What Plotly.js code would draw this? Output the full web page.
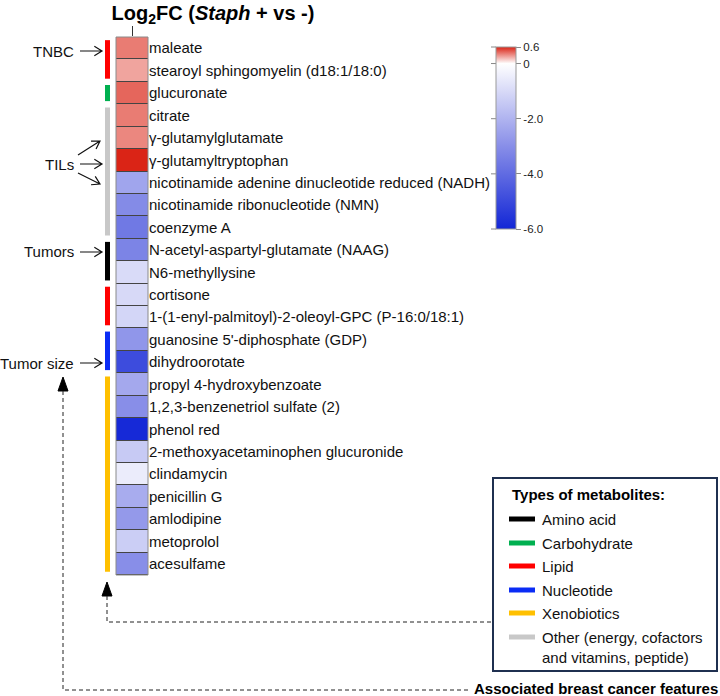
<!DOCTYPE html>
<html><head><meta charset="utf-8">
<script src="https://cdn.plot.ly/plotly-3.0.1.min.js"></script>
<style>html,body{margin:0;padding:0;background:#fff}</style>
</head><body>
<div id="chart" style="width:720px;height:696px"></div>
<script>
const metabolites = [
  'maleate',
  'stearoyl sphingomyelin (d18:1/18:0)',
  'glucuronate',
  'citrate',
  'γ-glutamylglutamate',
  'γ-glutamyltryptophan',
  'nicotinamide adenine dinucleotide reduced (NADH)',
  'nicotinamide ribonucleotide (NMN)',
  'coenzyme A',
  'N-acetyl-aspartyl-glutamate (NAAG)',
  'N6-methyllysine',
  'cortisone',
  '1-(1-enyl-palmitoyl)-2-oleoyl-GPC (P-16:0/18:1)',
  "guanosine 5'-diphosphate (GDP)",
  'dihydroorotate',
  'propyl 4-hydroxybenzoate',
  '1,2,3-benzenetriol sulfate (2)',
  'phenol red',
  '2-methoxyacetaminophen glucuronide',
  'clindamycin',
  'penicillin G',
  'amlodipine',
  'metoprolol',
  'acesulfame'
];
const log2fc = [0.36, 0.25, 0.42, 0.36, 0.33, 0.6,
  -2.4, -3.1, -3.6, -3.3, -0.95, -1.0, -1.1, -2.8, -4.9,
  -2.3, -3.0, -5.9, -1.4, -0.5, -2.2, -2.7, -1.3, -3.0];
const metaboliteType = ['Lipid','Lipid','Carbohydrate','Other','Other','Other','Other','Other','Other',
  'Amino acid','Amino acid','Lipid','Lipid','Nucleotide','Nucleotide',
  'Xenobiotics','Xenobiotics','Xenobiotics','Xenobiotics','Xenobiotics','Xenobiotics','Xenobiotics','Xenobiotics','Xenobiotics'];
const typeNames = ['Amino acid','Carbohydrate','Lipid','Nucleotide','Xenobiotics','Other'];
const typeLabels = ['Amino acid','Carbohydrate','Lipid','Nucleotide','Xenobiotics','Other (energy, cofactors<br>and vitamins, peptide)'];
const typeColors = ['#000000','#00b050','#ff0000','#0a2cf5','#ffc000','#c8c8c8'];
const cbTickVals = [0.6, 0, -2, -4, -6];
const cbTickText = ['0.6', '0', '-2.0', '-4.0', '-6.0'];
const features = [
  {text:'TNBC', y:51, arrows:[[80,51,102,51]]},
  {text:'TILs', y:164, arrows:[[78,155,100,141],[80,164,102,164],[78,173,100,184]]},
  {text:'Tumors', y:252, arrows:[[80,252,102,252]]},
  {text:'Tumor size', y:363, arrows:[[80,363,102,363]]}
];

const W = 720, H = 696;
const px = x => x / W, py = y => 1 - y / H;
const font = 'Liberation Sans, Arial, sans-serif';

const trace = {
  type: 'heatmap',
  x: ['Log2FC'],
  y: metabolites,
  z: log2fc.map(v => [v]),
  zmin: -6, zmax: 0.6,
  colorscale: [[0, 'rgb(18,38,214)'], [6/6.6*0.5, 'rgb(136,142,232)'], [6/6.6, 'rgb(255,255,255)'], [1, 'rgb(218,36,22)']],
  ygap: 1,
  hoverinfo: 'y+z',
  colorbar: {
    x: px(496), xanchor: 'left', y: py(47), yanchor: 'top',
    len: 182, lenmode: 'pixels', thickness: 20, thicknessmode: 'pixels',
    outlinecolor: '#999', outlinewidth: 1,
    tickvals: cbTickVals, ticktext: cbTickText,
    ticks: 'outside', ticklen: 5, tickcolor: '#888',
    tickfont: {family: font, size: 11.5, color: '#222'},
    xpad: 0, ypad: 0
  }
};

const shapes = [];
const annotations = [];

// border around heatmap column
shapes.push({type:'rect', xref:'x domain', yref:'y domain', x0:0, x1:1, y0:0, y1:1, line:{color:'#8a8a8a', width:1}});

// category bars on the left
let start = 0;
for (let i = 1; i <= metaboliteType.length; i++) {
  if (i === metaboliteType.length || metaboliteType[i] !== metaboliteType[start]) {
    const c = typeColors[typeNames.indexOf(metaboliteType[start])];
    shapes.push({type:'line', xref:'paper', yref:'y', x0:px(107.5), x1:px(107.5), y0:start-0.36, y1:i-1+0.36,
      line:{color:c, width:5}});
    start = i;
  }
}

// feature labels and arrows
features.forEach(f => {
  annotations.push({xref:'paper', yref:'paper', x:px(76), y:py(f.y), xanchor:'right', yanchor:'middle',
    text:f.text, showarrow:false, font:{family:font, size:15, color:'#111'}});
  f.arrows.forEach(a => {
    const [x0,y0,x1,y1] = a;
    const ang = Math.atan2(y1-y0, x1-x0), L = 9, s = 0.55;
    const hx1 = x1 - L*Math.cos(ang - s), hy1 = y1 - L*Math.sin(ang - s);
    const hx2 = x1 - L*Math.cos(ang + s), hy2 = y1 - L*Math.sin(ang + s);
    shapes.push({type:'path', xref:'paper', yref:'paper',
      path:`M${px(x0)},${py(y0)} L${px(x1)},${py(y1)} M${px(hx1)},${py(hy1)} L${px(x1)},${py(y1)} L${px(hx2)},${py(hy2)}`,
      line:{color:'#111', width:1.2}});
  });
});

// dashed connectors and triangles
function tri(x, yTop, yBase, hw) {
  return {type:'path', xref:'paper', yref:'paper',
    path:`M${px(x)},${py(yTop)} L${px(x-hw)},${py(yBase)} L${px(x+hw)},${py(yBase)} Z`,
    fillcolor:'#000', line:{color:'#000', width:1}};
}
shapes.push(tri(107, 582, 596, 5));
shapes.push({type:'path', xref:'paper', yref:'paper',
  path:`M${px(107)},${py(596)} L${px(107)},${py(622)} L${px(493)},${py(622)}`,
  line:{color:'#222', width:1, dash:'4px,3px'}});
shapes.push(tri(63, 377, 391, 5));
shapes.push({type:'path', xref:'paper', yref:'paper',
  path:`M${px(63)},${py(391)} L${px(63)},${py(690)} L${px(468)},${py(690)}`,
  line:{color:'#222', width:1, dash:'4px,3px'}});
annotations.push({xref:'paper', yref:'paper', x:px(472), y:py(688), xanchor:'left', yanchor:'middle',
  text:'<b>Associated breast cancer features</b>', showarrow:false, font:{family:font, size:15, color:'#000'}});

// legend box
shapes.push({type:'rect', xref:'paper', yref:'paper', x0:px(493), x1:px(717), y0:py(478), y1:py(671),
  line:{color:'#1f3050', width:2}, fillcolor:'rgba(0,0,0,0)'});
annotations.push({xref:'paper', yref:'paper', x:px(510), y:py(494), xanchor:'left', yanchor:'middle',
  text:'<b>Types of metabolites:</b>', showarrow:false, font:{family:font, size:15, color:'#000'}});
const legY = [519, 543, 566, 590, 613, 637];
typeNames.forEach((t, i) => {
  shapes.push({type:'line', xref:'paper', yref:'paper', x0:px(509), x1:px(535), y0:py(legY[i]), y1:py(legY[i]),
    line:{color:typeColors[i], width:5}});
  annotations.push({xref:'paper', yref:'paper', x:px(540), y:py(legY[i]-10), xanchor:'left', yanchor:'top',
    text:typeLabels[i], showarrow:false, align:'left', font:{family:font, size:15, color:'#111'}});
});

// colorbar left ticks
cbTickVals.forEach(v => {
  const yy = 47 + (0.6 - v) / 6.6 * 182;
  shapes.push({type:'line', xref:'paper', yref:'paper', x0:px(491), x1:px(496), y0:py(yy), y1:py(yy),
    line:{color:'#888', width:1}});
});

const layout = {
  width: W, height: H,
  margin: {l:0, r:0, t:0, b:0},
  paper_bgcolor: '#fff', plot_bgcolor: '#444',
  title: {text:'<b>Log<sub>2</sub>FC (<i>Staph</i> + vs -)</b>', x:px(213), xanchor:'center', y:py(13), yanchor:'middle',
    font:{family:font, size:20, color:'#000'}},
  xaxis: {domain:[px(116), px(148)], side:'top', showticklabels:false, ticks:'outside', ticklen:10,
    tickcolor:'#333', tickwidth:1, showgrid:false, zeroline:false, showline:false, fixedrange:true},
  yaxis: {domain:[py(575), py(37)], side:'right', autorange:'reversed', ticks:'', showgrid:false,
    zeroline:false, showline:false, tickfont:{family:font, size:15, color:'#111'}, automargin:false, fixedrange:true},
  shapes: shapes,
  annotations: annotations,
  showlegend: false
};

Plotly.newPlot('chart', [trace], layout, {displayModeBar:false, staticPlot:true});
</script>
</body></html>
